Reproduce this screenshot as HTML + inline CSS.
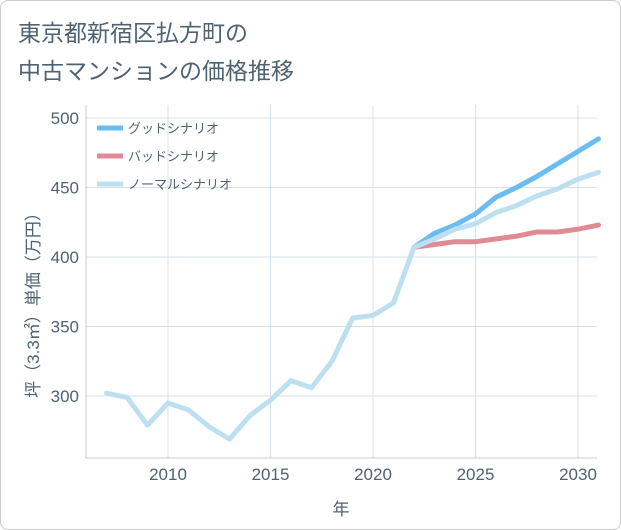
<!DOCTYPE html>
<html><head><meta charset="utf-8">
<style>
body{margin:0;background:#fff;font-family:"Liberation Sans","Noto Sans CJK JP",sans-serif;}
#wrap{position:relative;width:619px;height:528px;border:1px solid #ccc;border-radius:8px;overflow:hidden;background:#fff;}
</style></head><body>
<div id="wrap">
<svg id="chart" width="619" height="528"></svg>
</div>
<script>
const years=[2007,2008,2009,2010,2011,2012,2013,2014,2015,2016,2017,2018,2019,2020,2021,2022,2023,2024,2025,2026,2027,2028,2029,2030,2031];
const normalVals=[302,299,279,295,290,278,269,286,297,311,306,325,356,358,367,407,413,420,424,432,437,444,449,456,461];
const goodYears=[2022,2023,2024,2025,2026,2027,2028,2029,2030,2031];
const goodVals=[407,417,423,431,443,450,458,467,476,485];
const badVals=[407,409,411,411,413,415,418,418,420,423];
const xTicks=[2010,2015,2020,2025,2030];
const yTicks=[300,350,400,450,500];
const NS="http://www.w3.org/2000/svg";
const svg=document.getElementById('chart');
const L=85,R=596,T=104,B=457;
const TC='#4f6272';
const x=v=>167+(v-2010)*(372-167)/10;
const y=v=>395-(v-300)*(395-117)/200;
function mk(t,a){const e=document.createElementNS(NS,t);for(const k in a)e.setAttribute(k,a[k]);svg.appendChild(e);return e;}
function txt(s,a){const e=mk('text',a);e.textContent=s;return e;}
let t1=txt('東京都新宿区払方町の',{x:17,y:40,'font-size':23,fill:TC});

let t2=txt('中古マンションの価格推移',{x:17,y:78,'font-size':23,fill:TC});

xTicks.forEach(v=>{const l=mk('line',{x1:x(v),x2:x(v),y1:T,y2:B,stroke:'#d6e2ea'});
const t=txt(v,{x:x(v),y:479,'text-anchor':'middle','font-size':17,fill:TC});});
yTicks.forEach(v=>{const l=mk('line',{x1:L,x2:R,y1:y(v),y2:y(v),stroke:'#d6e2ea'});
const t=txt(v,{x:78,y:y(v)+6,'text-anchor':'end','font-size':17,fill:TC});});
const ax=mk('path',{d:`M${L} ${T}V${B}H${R}`,fill:'none',stroke:'#ccc'});
const xt=txt('年',{x:340,y:514,'text-anchor':'middle','font-size':17,fill:TC});
const yt=txt('坪（3.3㎡）単価（万円）',{x:0,y:0,'text-anchor':'middle','font-size':17,fill:TC,transform:'translate(38,300) rotate(-90)'});
function line(xs,vs,c,name){const d=vs.map((v,i)=>(i?'L':'M')+x(xs[i])+' '+y(v)).join('');const p=mk('path',{d,fill:'none',stroke:c,'stroke-width':5,'stroke-linejoin':'round','stroke-linecap':'round'});}
line(goodYears,goodVals,'#6bbcf0','good-scenario-line');
line(goodYears,badVals,'#e08a94','bad-scenario-line');
line(years,normalVals,'#bde0f0','normal-scenario-line');
[['グッドシナリオ','#6bbcf0'],['バッドシナリオ','#e08a94'],['ノーマルシナリオ','#bde0f0']].forEach((e,i)=>{const yy=127+i*28;
const l=mk('line',{x1:96,x2:122,y1:yy,y2:yy,stroke:e[1],'stroke-width':5});
const t=txt(e[0],{x:127,y:yy+5,'font-size':13,fill:TC});});
</script>
</body></html>
